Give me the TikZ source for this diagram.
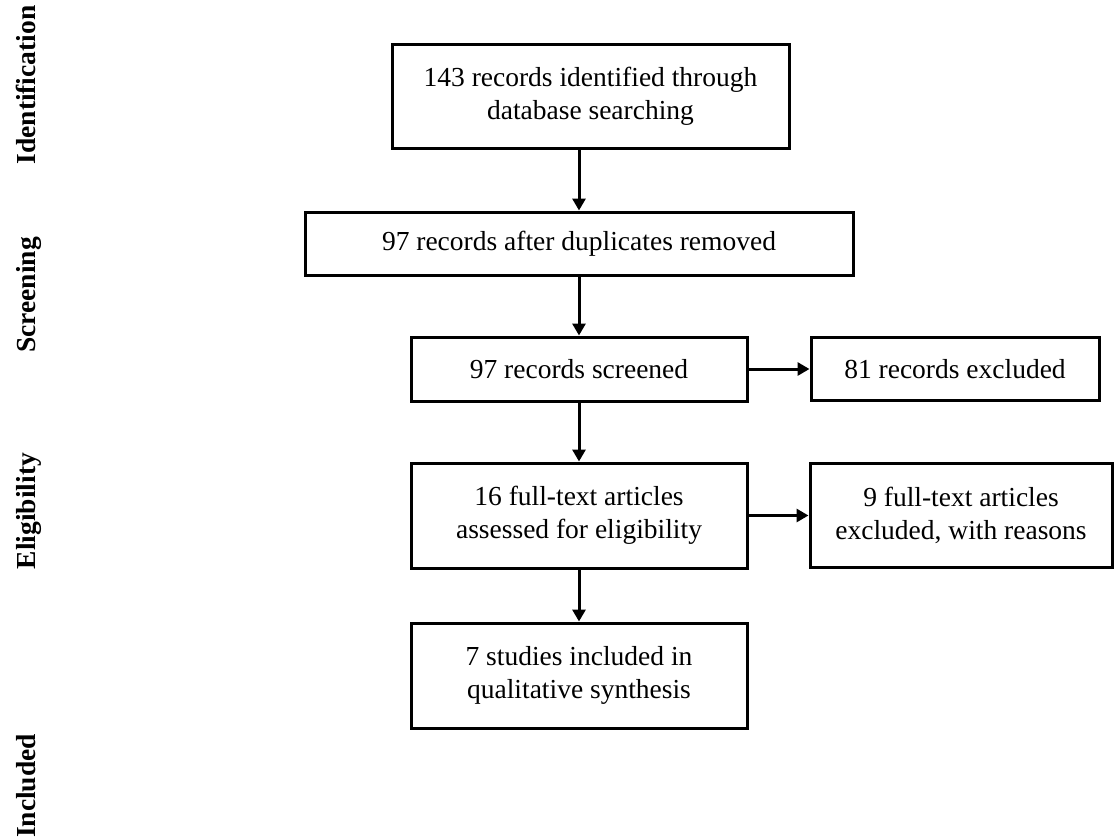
\documentclass[tikz,border=0pt]{standalone}
\usepackage{fontspec}
\setmainfont{Liberation Serif}
\usetikzlibrary{arrows.meta}
\begin{document}
\begin{tikzpicture}[x=1pt,y=-1pt,
  box/.style={draw, line width=3pt, align=center, inner sep=0pt, font=\fontsize{27.5}{33}\selectfont},
  arr/.style={line width=3pt, -{Triangle[length=12pt,width=13pt]}},
  stage/.style={rotate=90, anchor=base, font=\bfseries\fontsize{27.5}{33}\selectfont}]
\useasboundingbox (0,0) rectangle (1114,836);
\node[box, minimum width=397pt, minimum height=104pt] (b1) at (590.5,96) {143 records identified through\\database searching};
\node[box, minimum width=548pt, minimum height=63pt] (b2) at (579,243.5) {97 records after duplicates removed};
\node[box, minimum width=336pt, minimum height=64pt] (b3) at (579,369) {97 records screened};
\node[box, minimum width=288pt, minimum height=63pt] (b4) at (955,369) {81 records excluded};
\node[box, minimum width=336pt, minimum height=105pt] (b5) at (579,515.5) {16 full-text articles\\assessed for eligibility};
\node[box, minimum width=302pt, minimum height=104pt] (b6) at (961,515.5) {9 full-text articles\\excluded, with reasons};
\node[box, minimum width=336pt, minimum height=105pt] (b7) at (579,675.5) {7 studies included in\\qualitative synthesis};
\draw[arr] (b1.south -| b2.north) -- (b2.north);
\draw[arr] (b2.south -| b3.north) -- (b3.north);
\draw[arr] (b3.east) -- (b4.west);
\draw[arr] (b3.south) -- (b5.north);
\draw[arr] (b5.east) -- (b6.west);
\draw[arr] (b5.south) -- (b7.north);
\node[stage] (s1) at (35,85) {Identification};
\node[stage] (s2) at (35,295) {Screening};
\node[stage] (s3) at (35,511) {Eligibility};
\node[stage] (s4) at (35,786) {Included};
\end{tikzpicture}
\end{document}
